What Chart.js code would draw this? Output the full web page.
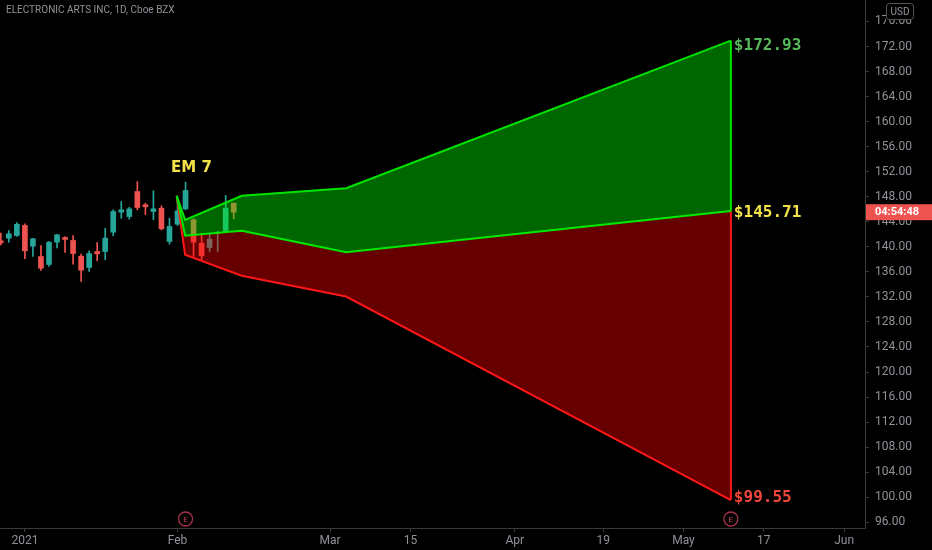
<!DOCTYPE html>
<html>
<head>
<meta charset="utf-8">
<script src="https://cdn.jsdelivr.net/npm/chart.js@4.4.0/dist/chart.umd.min.js"></script>
<style>
  html, body { margin: 0; padding: 0; background: #000; }
  #wrap { width: 932px; height: 550px; position: relative; }
</style>
</head>
<body>
<div id="wrap"><canvas id="chart"></canvas></div>
<script>
// x = trading day index, 0 = Jan 4 2021
const candleDays = [-3, -2, -1, 0, 1, 2, 3, 4, 5, 6, 7, 8, 9, 10, 11, 12, 13, 14, 15, 16, 17, 18, 19, 20, 21, 22, 23, 24, 25, 26]
const opens  = [140.96, 141.38, 141.81, 143.41, 140.10, 138.45, 137.18, 140.74, 141.49, 141.01, 138.50, 136.70, 139.25, 139.25, 142.34, 145.53, 144.84, 148.84, 146.71, 145.64, 146.17, 140.85, 143.61, 146.07, 144.32, 140.58, 139.89, 142.15, 142.45, 146.97]
const highs  = [142.18, 142.61, 143.89, 143.68, 141.35, 140.21, 140.85, 142.00, 141.65, 141.81, 138.82, 139.36, 140.69, 142.97, 145.91, 147.24, 146.33, 150.43, 146.97, 148.95, 146.55, 144.57, 147.50, 150.32, 144.50, 142.18, 142.18, 142.45, 148.20, 147.00]
const lows   = [140.32, 140.74, 141.65, 138.09, 138.45, 136.22, 136.86, 139.84, 139.09, 137.22, 134.46, 136.06, 137.77, 137.93, 141.76, 144.57, 144.41, 145.91, 145.12, 144.32, 142.70, 140.42, 143.41, 145.90, 138.45, 137.93, 139.25, 139.25, 142.45, 144.48]
const closes = [140.64, 142.08, 143.61, 139.36, 141.28, 136.58, 140.74, 141.92, 141.17, 138.93, 136.27, 138.93, 138.88, 141.38, 145.64, 145.91, 146.07, 146.28, 146.39, 146.07, 142.88, 143.25, 145.75, 149.00, 140.74, 138.57, 141.22, 142.30, 146.17, 145.53]

// expected move cone
const emDays  = [18.9, 19.95, 27.0, 40.0, 87.9]
const emUpper = [148.15, 144.30, 148.15, 149.36, 172.93]
const emMid   = [148.15, 141.76, 142.56, 139.14, 145.71]
const emLower = [148.15, 138.73, 135.37, 132.06, 99.55]

const xTickDays = [0, 19, 38, 48, 61, 72, 82, 92, 102]
const xTickLabels = ['2021', 'Feb', 'Mar', '15', 'Apr', '19', 'May', '17', 'Jun']
const yTicks = [96, 100, 104, 108, 112, 116, 120, 124, 128, 132, 136, 140, 144, 148, 152, 156, 160, 164, 168, 172, 176]
const earningsDays = [20, 87.9]

const TEAL = '#26a69a'
const RED = '#ef5350'
const LIME = '#00e400'
const LINE_RED = '#ff1c1c'
const TXT = '#8f9299'

const candleColors = closes.map((c, k) => c >= opens[k] ? TEAL : RED)
const wicks = candleDays.map((d, k) => ({ x: d, y: [lows[k], highs[k]] }))
const bodies = candleDays.map((d, k) => ({ x: d, y: [opens[k], closes[k]] }))
const pts = arr => emDays.map((d, k) => ({ x: d, y: arr[k] }))
const last = emDays.length - 1

const overlay = {
  id: 'overlay',
  afterDraw(chart) {
    const { ctx, chartArea, scales } = chart
    const x = scales.x, y = scales.y
    ctx.save()

    // title
    ctx.fillStyle = TXT
    ctx.font = '10px Roboto'
    ctx.textBaseline = 'middle'
    ctx.textAlign = 'left'
    ctx.fillText('ELECTRONIC ARTS INC, 1D, Cboe BZX', 6, 10)

    // EM label
    ctx.fillStyle = '#f3e24a'
    ctx.font = 'bold 15px "DejaVu Sans"'
    ctx.fillText('EM 7', x.getPixelForValue(18.2), y.getPixelForValue(152.6))

    // price labels at cone end
    const ex = x.getPixelForValue(emDays[last]) + 3
    ctx.font = 'bold 16px "DejaVu Sans Mono"'
    ctx.fillStyle = '#55b85a'
    ctx.fillText('$' + emUpper[last].toFixed(2), ex, y.getPixelForValue(emUpper[last]) + 5)
    ctx.fillStyle = '#f3e24a'
    ctx.fillText('$' + emMid[last].toFixed(2), ex, y.getPixelForValue(emMid[last]) + 2)
    ctx.fillStyle = '#f0473c'
    ctx.fillText('$' + emLower[last].toFixed(2), ex, y.getPixelForValue(emLower[last]) - 2)

    // earnings markers
    earningsDays.forEach(d => {
      const cx = x.getPixelForValue(d), cy = chartArea.bottom - 9
      ctx.beginPath()
      ctx.arc(cx, cy, 7, 0, Math.PI * 2)
      ctx.fillStyle = '#000'
      ctx.fill()
      ctx.strokeStyle = '#a8324a'
      ctx.lineWidth = 1.3
      ctx.stroke()
      ctx.fillStyle = '#c0405a'
      ctx.font = '8px Roboto'
      ctx.textAlign = 'center'
      ctx.fillText('E', cx, cy + 0.5)
    })

    // countdown tag on price axis
    const ty = y.getPixelForValue(closes[closes.length - 1])
    ctx.fillStyle = '#ef5350'
    ctx.fillRect(chartArea.right + 1, ty - 8, 932 - chartArea.right - 1, 16)
    ctx.fillStyle = '#fff'
    ctx.font = 'bold 11px Roboto'
    ctx.textAlign = 'left'
    ctx.fillText('04:54:48', chartArea.right + 10, ty)

    // currency box
    ctx.fillStyle = '#000'
    ctx.fillRect(886, 3, 28, 17)
    ctx.strokeStyle = '#555'
    ctx.lineWidth = 1
    ctx.beginPath()
    ctx.roundRect(886.5, 3.5, 27, 16, 3)
    ctx.stroke()
    ctx.fillStyle = TXT
    ctx.font = '10px Roboto'
    ctx.textAlign = 'center'
    ctx.fillText('USD', 900, 12)
    ctx.restore()
  }
}

new Chart(document.getElementById('chart'), {
  type: 'bar',
  data: {
    datasets: [
      { type: 'line', data: pts(emUpper), borderColor: LIME, borderWidth: 2, pointRadius: 0, fill: '+1', backgroundColor: 'rgba(0,255,0,0.4)', order: 1 },
      { type: 'line', data: pts(emMid), borderColor: LIME, borderWidth: 2, pointRadius: 0, fill: '+1', backgroundColor: 'rgba(255,0,0,0.4)', order: 2 },
      { type: 'line', data: pts(emLower), borderColor: LINE_RED, borderWidth: 2, pointRadius: 0, fill: false, order: 3 },
      { type: 'line', data: [{ x: emDays[last], y: emUpper[last] }, { x: emDays[last], y: emMid[last] }], borderColor: LIME, borderWidth: 2, pointRadius: 0, fill: false, order: 1 },
      { type: 'line', data: [{ x: emDays[last], y: emMid[last] }, { x: emDays[last], y: emLower[last] }], borderColor: LINE_RED, borderWidth: 2, pointRadius: 0, fill: false, order: 3 },
      { type: 'bar', data: wicks, backgroundColor: candleColors, barThickness: 1, grouped: false, order: 10 },
      { type: 'bar', data: bodies, backgroundColor: candleColors, barThickness: 5, grouped: false, order: 9 }
    ]
  },
  options: {
    responsive: true,
    maintainAspectRatio: false,
    animation: false,
    layout: { padding: 0 },
    plugins: { legend: { display: false }, tooltip: { enabled: false } },
    scales: {
      x: {
        type: 'linear',
        offset: false,
        min: -3.1,
        max: 104.6,
        grid: { display: true, offset: false, drawOnChartArea: false, tickLength: 4, color: '#3a3a3a' },
        border: { color: '#3a3a3a' },
        afterBuildTicks: s => { s.ticks = xTickDays.map(v => ({ value: v })) },
        afterFit: s => { s.height = 22; s.paddingLeft = 0; s.paddingRight = 0 },
        ticks: {
          callback: v => xTickLabels[xTickDays.indexOf(v)],
          color: TXT,
          font: { family: 'Roboto', size: 12 },
          maxRotation: 0,
          autoSkip: false,
          padding: 2
        }
      },
      y: {
        position: 'right',
        min: 95.08,
        max: 179.43,
        grid: { display: true, drawOnChartArea: false, tickLength: 4, color: '#3a3a3a' },
        border: { color: '#3a3a3a' },
        afterBuildTicks: s => { s.ticks = yTicks.map(v => ({ value: v })) },
        afterFit: s => { s.width = 67; s.paddingTop = 0; s.paddingBottom = 0 },
        ticks: {
          callback: v => v.toFixed(2),
          color: TXT,
          font: { family: 'Roboto', size: 12 },
          padding: 6
        }
      }
    }
  },
  plugins: [overlay]
})
</script>
</body>
</html>
